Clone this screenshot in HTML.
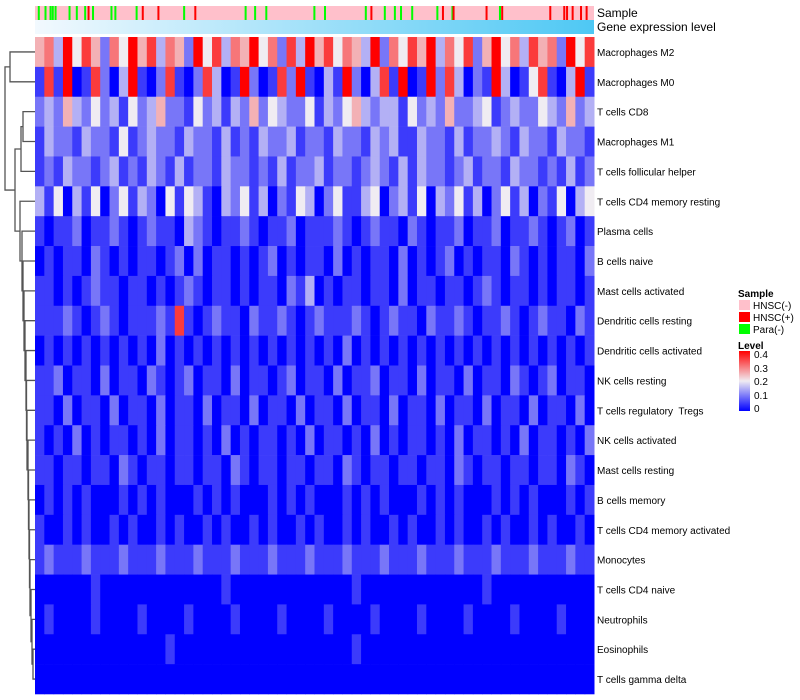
<!DOCTYPE html>
<html><head><meta charset="utf-8"><style>
body{margin:0;background:#fff;width:800px;height:700px;overflow:hidden;font-family:"Liberation Sans",sans-serif}
svg{display:block}
text{white-space:pre}
</style></head><body>
<svg id="chart" width="800" height="700" xmlns="http://www.w3.org/2000/svg">
<defs>
<linearGradient id="geneGrad" x1="0" x2="1" y1="0" y2="0"><stop offset="0" stop-color="#f2f9fe"/><stop offset="1" stop-color="#4ec8f4"/></linearGradient>
<linearGradient id="levelGrad" x1="0" x2="0" y1="1" y2="0"><stop offset="0" stop-color="#0000ff"/><stop offset="0.5" stop-color="#f0ecf2"/><stop offset="1" stop-color="#ff0000"/></linearGradient>
</defs>
<g id="dendro"></g>
<g id="cells"></g>
<g id="annot"></g>
<g id="labels"></g>
<g font-size="10">
<text x="738" y="297" font-weight="bold">Sample</text>
<rect x="739" y="300" width="11" height="10" fill="#ffc0cb"/>
<text x="753" y="309">HNSC(-)</text>
<rect x="739" y="312" width="11" height="10" fill="#ff0000"/>
<text x="753" y="321">HNSC(+)</text>
<rect x="739" y="324" width="11" height="10" fill="#00ff00"/>
<text x="753" y="333">Para(-)</text>
<text x="738" y="349" font-weight="bold">Level</text>
<rect x="739" y="351" width="11" height="60" fill="url(#levelGrad)"/>
<text x="754" y="358">0.4</text>
<text x="754" y="372">0.3</text>
<text x="754" y="385">0.2</text>
<text x="754" y="399">0.1</text>
<text x="754" y="412">0</text>
</g>
</svg>
<script>
const rowNames = ["Macrophages M2","Macrophages M0","T cells CD8","Macrophages M1","T cells follicular helper","T cells CD4 memory resting","Plasma cells","B cells naive","Mast cells activated","Dendritic cells resting","Dendritic cells activated","NK cells resting","T cells regulatory  Tregs","NK cells activated","Mast cells resting","B cells memory","T cells CD4 memory activated","Monocytes","T cells CD4 naive","Neutrophils","Eosinophils","T cells gamma delta"];
// each digit d => level d/20
const rowLevels = [
"563847526485736528473658462738574653826475836472584637562847",
"171801720381027102730182017291031820371901827302183014710381",
"232532423142352214231325243224132453233142325223412322432523",
"132213221412322132213121322312213221323113221312232132213221",
"121322123121321312213221213122312212321313221231221322121312",
"314031402413204143103241302143024113402314032413024130214034",
"101120112101211032101121011201112101211021011201120112101201",
"010110210101101202011010120101102010110201012010110210101102",
"110101211011010121011010110213010110110201101101210110101101",
"111210121011121710121102112101211121012110211210112101211021",
"010101010101020101010101010101010201010101010101010101010101",
"112011020110210120110201101201102011201102011020110210120110",
"110201102011020110201102011020110201102011020110201102011020",
"101020101101020110102010110102011010201011010201101020110102",
"110110110210110110110210110110110210110110110210110110110210",
"010101000101010001010100010101000101010001010100010101000101",
"100101001010010100101001010010100101001010010100101001010010",
"121112111211121112111211121112111211121112111211121112111211",
"000000100000000000001000000000000010000000000000100000000000",
"010000100001000010000100001000010000100001000010000100001000",
"000000000000001000000000000000000010000000000000000000000000",
"000000000000000000000000000000000000000000000000000000000000"
];
// sample annotation: column fraction positions
const greenPos = [0.005,0.017,0.026,0.030,0.035,0.060,0.073,0.088,0.102,0.135,0.142,0.180,0.265,0.375,0.392,0.412,0.498,0.517,0.590,0.624,0.642,0.653,0.673,0.718,0.745,0.830];
const redPos = [0.094,0.191,0.219,0.285,0.600,0.728,0.747,0.806,0.834,0.920,0.945,0.950,0.960,0.975,0.985];
// dendrogram merges: [childA, childB, height-x]
const merges = [[0,1,10],[2,3,23],[23,4,21],[20,21,33],[19,25,32],[18,26,31],[17,27,30],[16,28,29.5],[15,29,29],[14,30,28.5],[13,31,28],[12,32,27],[11,33,26.5],[10,34,26],[9,35,25],[8,36,24],[7,37,23],[6,38,22],[5,39,20],[24,40,15],[22,41,5]];

const NS="http://www.w3.org/2000/svg";
const X0=35,X1=594,Y0=37,Y1=694;
const rowH=(Y1-Y0)/rowNames.length;
function xScale(f){return X0+f*(X1-X0);}
function yRow(i){return Y0+i*rowH;}
function color(v){
  v=Math.max(0,Math.min(0.4,v));
  let r,g,b;
  if(v<=0.2){const t=v/0.2;r=240*t;g=236*t;b=255-13*t;}
  else{const t=(v-0.2)/0.2;r=240+15*t;g=236*(1-t);b=242*(1-t);}
  return `rgb(${r|0},${g|0},${b|0})`;
}
const cells=document.getElementById('cells');
rowLevels.forEach((s,i)=>{
  const n=s.length;
  for(let j=0;j<n;j++){
    const v=parseInt(s[j])/20;
    const r=document.createElementNS(NS,'rect');
    r.setAttribute('x',xScale(j/n));r.setAttribute('y',yRow(i));
    r.setAttribute('width',(X1-X0)/n+0.5);r.setAttribute('height',rowH+0.3);
    r.setAttribute('fill',color(v));
    
    
    cells.appendChild(r);
  }
});
const annot=document.getElementById('annot');
function mk(tag,attrs,parent){const e=document.createElementNS(NS,tag);for(const k in attrs)e.setAttribute(k,attrs[k]);parent.appendChild(e);return e;}
let sb=mk('rect',{x:X0,y:6,width:X1-X0,height:14,fill:'#ffc0cb'},annot);


greenPos.forEach(p=>{const e=mk('rect',{x:xScale(p),y:6,width:2,height:14,fill:'#00ff00'},annot);

});
redPos.forEach(p=>{const e=mk('rect',{x:xScale(p),y:6,width:2,height:14,fill:'#ff0000'},annot);

});
let gb=mk('rect',{x:X0,y:20,width:X1-X0,height:14,fill:'url(#geneGrad)'},annot);


let t1=mk('text',{x:597,y:17,'font-size':12},annot);t1.textContent='Sample';


let t2=mk('text',{x:597,y:31,'font-size':12},annot);t2.textContent='Gene expression level';


const labels=document.getElementById('labels');
rowNames.forEach((nm,i)=>{const t=mk('text',{x:597,y:yRow(i)+rowH/2+4,'font-size':10},labels);t.textContent=nm;

});
// dendrogram
const dg=document.getElementById('dendro');
const nodeY={},nodeX={};
for(let i=0;i<rowNames.length;i++){nodeY[i]=yRow(i)+rowH/2;nodeX[i]=X0;}
merges.forEach((m,k)=>{
  const id=rowNames.length+k,[a,b,h]=m;
  nodeX[id]=h;nodeY[id]=(nodeY[a]+nodeY[b])/2;
  const p=mk('path',{d:`M${nodeX[a]},${nodeY[a]}H${h}V${nodeY[b]}H${nodeX[b]}`,fill:'none',stroke:'#555','stroke-width':1.3},dg);
  
  
});
</script>
</body></html>
